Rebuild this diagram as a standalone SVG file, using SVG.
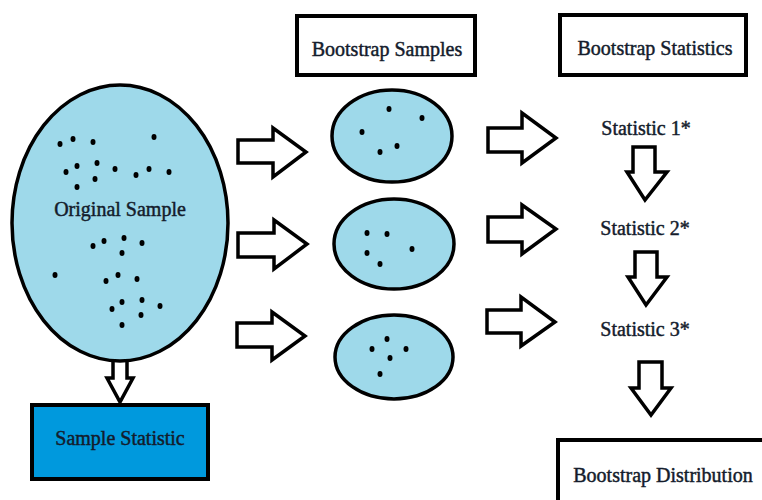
<svg xmlns="http://www.w3.org/2000/svg" width="762" height="500" viewBox="0 0 762 500">
<style>
.t{font-family:'Liberation Serif','DejaVu Serif',serif;font-size:20px;fill:#141c2c;stroke:#141c2c;stroke-width:0.45;text-anchor:middle}
.arr{fill:#fff;stroke:#000;stroke-width:3.5;stroke-linejoin:miter}
.blob{fill:#9ed9ea;stroke:#000;stroke-width:3.5}
.box{fill:#fff;stroke:#000;stroke-width:4}
.d{fill:#000}
</style>
<rect width="762" height="500" fill="#fff"/>
<g id="connectors">
<path class="arr" d="M113,350 L127,350 L127,378 L133,378 L120,402 L107,378 L113,378 Z"/>
<path class="arr" d="M238,140 L273,140 L273,128 L306,152 L273,177 L273,163 L238,163 Z"/>
<path class="arr" d="M238,233 L274,233 L274,220 L307,244 L274,269 L274,257 L238,257 Z"/>
<path class="arr" d="M237,323 L272,323 L272,312 L305,336 L272,360 L272,347 L237,347 Z"/>
<path class="arr" d="M488,128 L522,128 L522,113 L556,138 L522,163 L522,152 L488,152 Z"/>
<path class="arr" d="M488,217 L522,217 L522,205 L556,229 L522,254 L522,242 L488,242 Z"/>
<path class="arr" d="M487,310 L521,310 L521,297 L555,322 L521,346 L521,333 L487,333 Z"/>
<path class="arr" d="M633,147 L655,147 L655,172 L667,172 L645,200 L627,172 L633,172 Z"/>
<path class="arr" d="M635,252 L657,252 L657,277 L667,277 L646,305 L628,277 L635,277 Z"/>
<path class="arr" d="M639,362 L662,362 L662,388 L671,388 L651,415 L631,388 L639,388 Z"/>
</g>
<g id="original-sample">
<ellipse class="blob" cx="120" cy="223" rx="108" ry="138"/>
<g class="d">
<ellipse cx="60" cy="144" rx="2.5" ry="3"/><ellipse cx="73" cy="139" rx="2.5" ry="3"/><ellipse cx="93" cy="142" rx="2.5" ry="3"/><ellipse cx="154" cy="137" rx="2.5" ry="3"/>
<ellipse cx="66" cy="172" rx="2.5" ry="3"/><ellipse cx="77" cy="166" rx="2.5" ry="3"/><ellipse cx="97" cy="163" rx="2.5" ry="3"/><ellipse cx="95" cy="179" rx="2.5" ry="3"/>
<ellipse cx="115" cy="169" rx="2.5" ry="3"/><ellipse cx="136" cy="175" rx="2.5" ry="3"/><ellipse cx="149" cy="169" rx="2.5" ry="3"/><ellipse cx="169" cy="172" rx="2.5" ry="3"/>
<ellipse cx="77" cy="187" rx="2.5" ry="3"/><ellipse cx="93" cy="246" rx="2.5" ry="3"/><ellipse cx="104" cy="241" rx="2.5" ry="3"/><ellipse cx="124" cy="238" rx="2.5" ry="3"/>
<ellipse cx="122" cy="253" rx="2.5" ry="3"/><ellipse cx="142" cy="243" rx="2.5" ry="3"/><ellipse cx="55" cy="275" rx="2.5" ry="3"/><ellipse cx="106" cy="281" rx="2.5" ry="3"/>
<ellipse cx="118" cy="275" rx="2.5" ry="3"/><ellipse cx="137" cy="279" rx="2.5" ry="3"/><ellipse cx="112" cy="309" rx="2.5" ry="3"/><ellipse cx="122" cy="302" rx="2.5" ry="3"/>
<ellipse cx="142" cy="300" rx="2.5" ry="3"/><ellipse cx="160" cy="306" rx="2.5" ry="3"/><ellipse cx="141" cy="315" rx="2.5" ry="3"/><ellipse cx="122" cy="325" rx="2.5" ry="3"/>
</g>
<text class="t" x="120" y="216">Original Sample</text>
</g>
<g id="sample-statistic">
<rect x="32" y="405" width="176" height="74" fill="#0099dd" stroke="#000" stroke-width="4"/>
<text class="t" x="120" y="445">Sample Statistic</text>
</g>
<g id="bootstrap-samples-label">
<rect class="box" x="297" y="16" width="178" height="59"/>
<text class="t" x="387" y="56">Bootstrap Samples</text>
</g>
<g id="bootstrap-statistics-label">
<rect class="box" x="560" y="15" width="186" height="60"/>
<text class="t" x="655" y="55">Bootstrap Statistics</text>
</g>
<g id="sample-1">
<ellipse class="blob" cx="392" cy="136" rx="60" ry="46"/>
<g class="d"><ellipse cx="389" cy="109" rx="2.5" ry="3"/><ellipse cx="422" cy="118" rx="2.5" ry="3"/><ellipse cx="362" cy="132" rx="2.5" ry="3"/><ellipse cx="397" cy="146" rx="2.5" ry="3"/><ellipse cx="380" cy="152" rx="2.5" ry="3"/></g>
</g>
<g id="sample-2">
<ellipse class="blob" cx="394" cy="244" rx="60" ry="45"/>
<g class="d"><ellipse cx="367" cy="233" rx="2.5" ry="3"/><ellipse cx="387" cy="234" rx="2.5" ry="3"/><ellipse cx="367" cy="253" rx="2.5" ry="3"/><ellipse cx="412" cy="249" rx="2.5" ry="3"/><ellipse cx="380" cy="264" rx="2.5" ry="3"/></g>
</g>
<g id="sample-3">
<ellipse class="blob" cx="394" cy="357" rx="59" ry="42"/>
<g class="d"><ellipse cx="387" cy="339" rx="2.5" ry="3"/><ellipse cx="372" cy="349" rx="2.5" ry="3"/><ellipse cx="406" cy="349" rx="2.5" ry="3"/><ellipse cx="390" cy="358" rx="2.5" ry="3"/><ellipse cx="380" cy="374" rx="2.5" ry="3"/></g>
</g>
<g id="statistic-1"><text class="t" x="646" y="135">Statistic 1*</text></g>
<g id="statistic-2"><text class="t" x="645" y="235">Statistic 2*</text></g>
<g id="statistic-3"><text class="t" x="645" y="336">Statistic 3*</text></g>
<g id="bootstrap-distribution">
<rect class="box" x="558" y="440" width="210" height="70"/>
<text class="t" x="663" y="482">Bootstrap Distribution</text>
</g>
</svg>
